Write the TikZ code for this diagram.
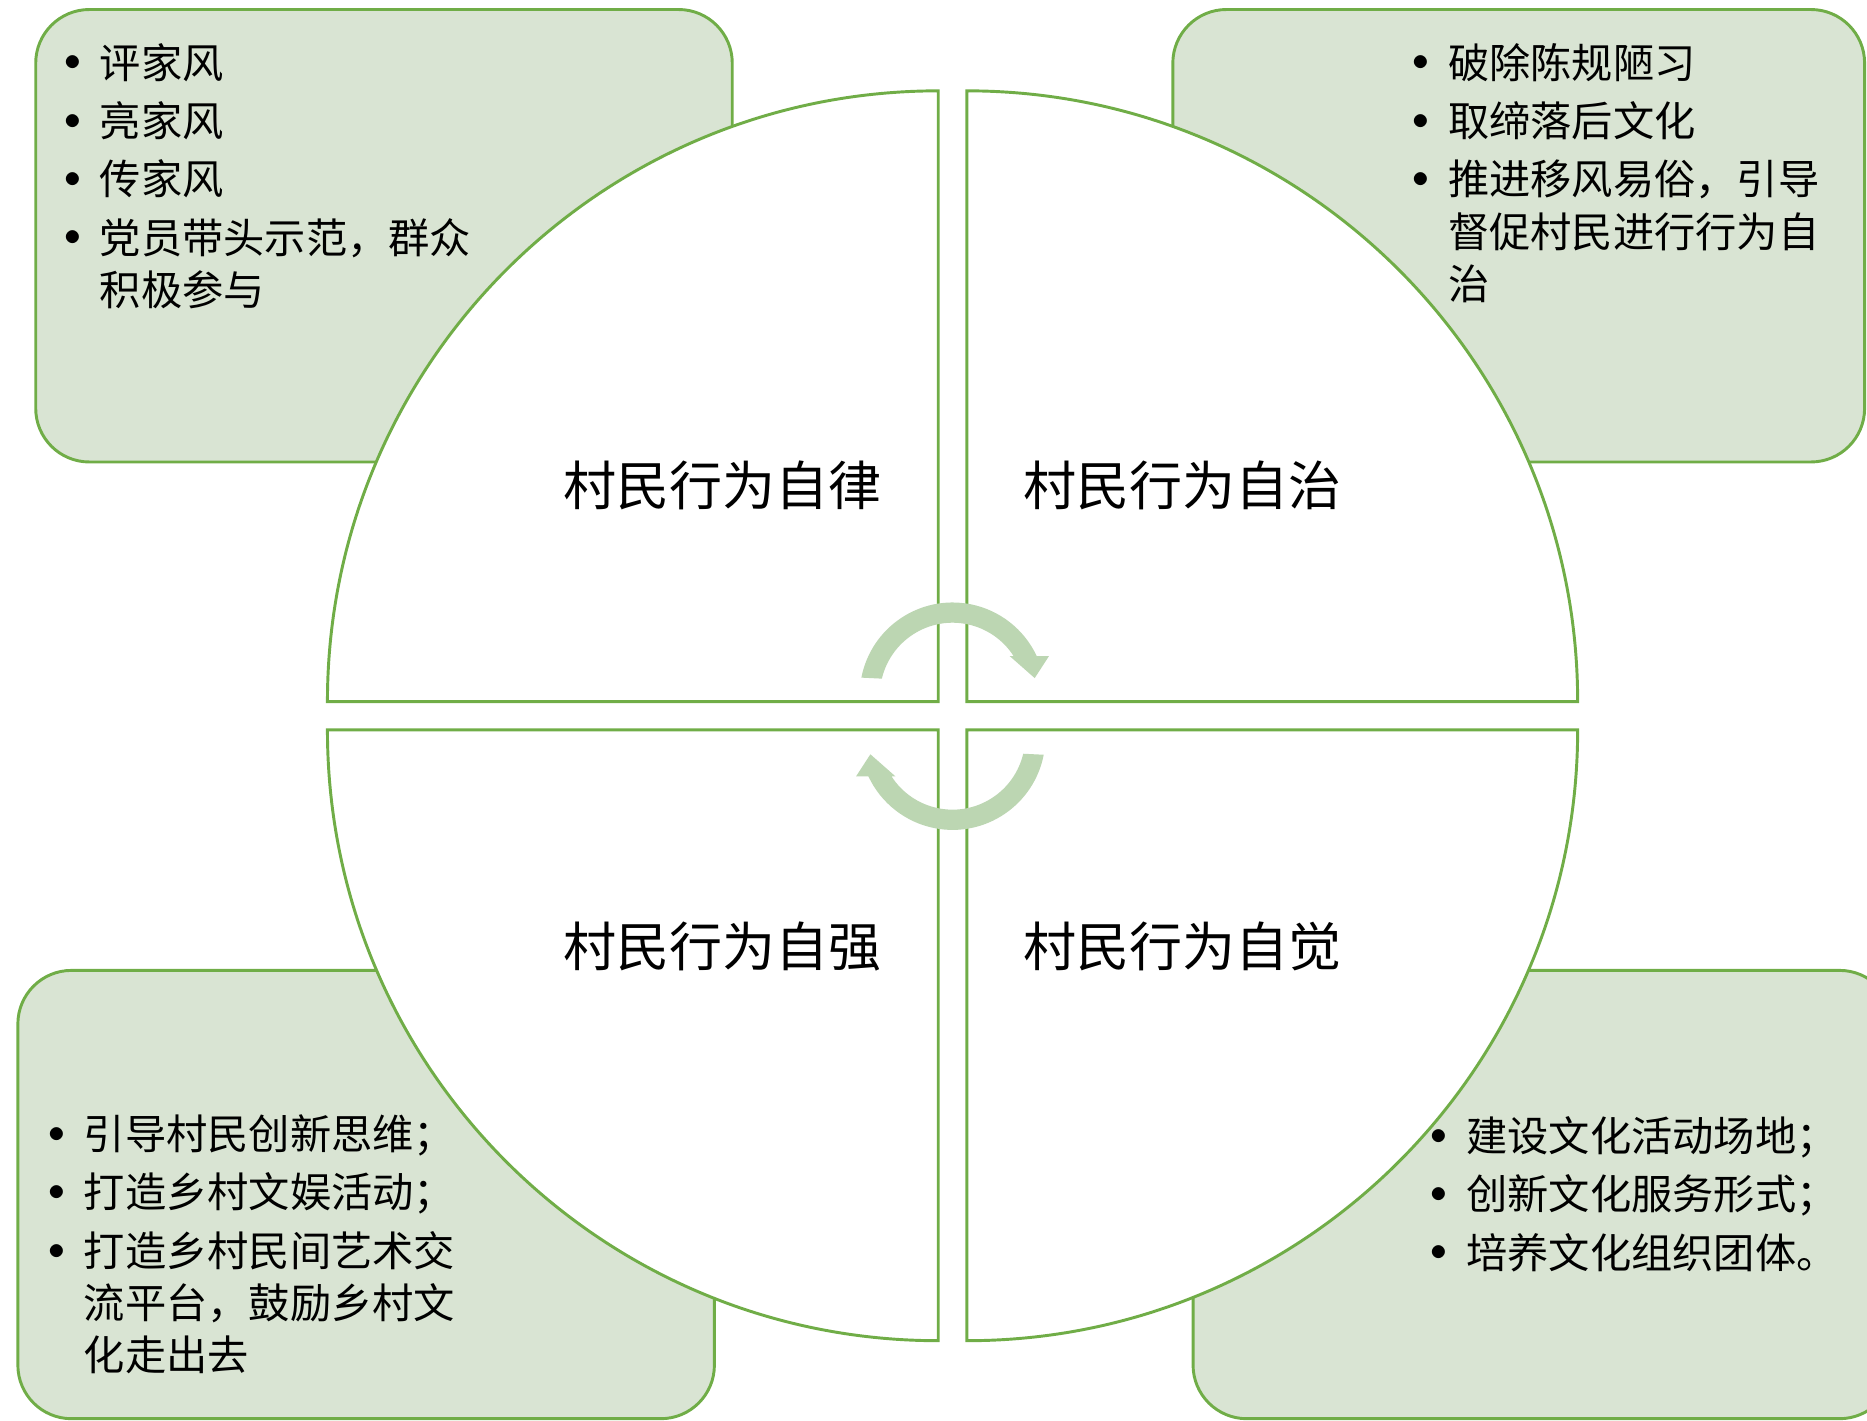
\documentclass[tikz,border=0pt]{standalone}
\usepackage{fontspec}
\setmainfont{Noto Sans CJK SC}
\usepackage{graphicx}
\usepackage{tikz}
\usetikzlibrary{calc}

\definecolor{leafgreen}{RGB}{112,173,71}
\definecolor{boxgreen}{RGB}{217,228,211}
\definecolor{arrowgreen}{RGB}{188,214,178}

\newcommand{\listbullet}{\makebox[0pt][c]{\raisebox{1.75pt}{\scalebox{0.8}{$\bullet$}}}\hspace{0.23cm}}
\newcommand{\listindent}{\hspace{0.23cm}}

\begin{document}
\begin{tikzpicture}[x=0.01cm, y=0.01cm]
    % Setup the styles for boxes, quadrants and texts
    \tikzset{
        box style/.style={
            draw=leafgreen,
            line width=0.7pt,
            fill=boxgreen,
            rounded corners=0.45cm},
        quad style/.style={
            draw=leafgreen,
            line width=0.7pt,
            fill=white},
        label style/.style={
            font=\fontsize{12.66pt}{15pt}\selectfont,
            inner sep=0pt},
        list style/.style={
            font=\fontsize{9.85pt}{12.45pt}\selectfont,
            align=left,
            anchor=north west,
            inner sep=0pt},
        arrow style/.style={fill=arrowgreen}}
    \clip (0,0) rectangle (1568,1193);

    % Draw the boxes behind the circle
    \draw[box style] (30,805)   rectangle (615,1185);
    \draw[box style] (985,805)  rectangle (1566,1185);
    \draw[box style] (15,1.5)   rectangle (600,378);
    \draw[box style] (1002,1.5) rectangle (1590,378);

    % Draw the four quadrants
    \draw[quad style] (788,603.7) -- (275,603.7)  arc[start angle=180, end angle=90,  radius=513] -- cycle;
    \draw[quad style] (812,603.7) -- (812,1116.7) arc[start angle=90,  end angle=0,   radius=513] -- cycle;
    \draw[quad style] (788,580)   -- (788,67)     arc[start angle=270, end angle=180, radius=513] -- cycle;
    \draw[quad style] (812,580)   -- (1325,580)   arc[start angle=0,   end angle=-90, radius=513] -- cycle;

    % Draw the turning arrows in the middle
    \foreach \turn in {0,180} {
        \fill[arrow style, rotate around={\turn:(800,591.5)}]
            (800,609) ++(169:78) arc[start angle=169, end angle=25, radius=78]
            -- (881,642) -- (869,623.5) -- (848,642)
            -- ($(800,609)+(32.7:61)$) arc[start angle=32.7, end angle=166.7, radius=61]
            -- cycle;
    }

    % Draw the quadrant labels
    \node[label style] at (606.5,785) (zilv)    {村民行为自律};
    \node[label style] at (993.5,785) (zizhi)   {村民行为自治};
    \node[label style] at (606.5,398) (ziqiang) {村民行为自强};
    \node[label style] at (993.5,398) (zijue)   {村民行为自觉};

    % Draw the lists in the boxes
    \node[list style] at (60.2,1157.5) (zilvList) {
        \listbullet 评家风\\[1.5pt]
        \listbullet 亮家风\\[1.5pt]
        \listbullet 传家风\\[1.5pt]
        \listbullet 党员带头示范，群众\\
        \listindent 积极参与};
    \node[list style] at (1192.6,1157.5) (zizhiList) {
        \listbullet 破除陈规陋习\\[1.5pt]
        \listbullet 取缔落后文化\\[1.5pt]
        \listbullet 推进移风易俗，引导\\
        \listindent 督促村民进行行为自\\
        \listindent 治};
    \node[list style] at (46.8,257.5) (ziqiangList) {
        \listbullet 引导村民创新思维；\\[1.5pt]
        \listbullet 打造乡村文娱活动；\\[1.5pt]
        \listbullet 打造乡村民间艺术交\\
        \listindent 流平台，鼓励乡村文\\
        \listindent 化走出去};
    \node[list style] at (1207.8,256) (zijueList) {
        \listbullet 建设文化活动场地；\\[1.5pt]
        \listbullet 创新文化服务形式；\\[1.5pt]
        \listbullet 培养文化组织团体。};
\end{tikzpicture}
\end{document}
